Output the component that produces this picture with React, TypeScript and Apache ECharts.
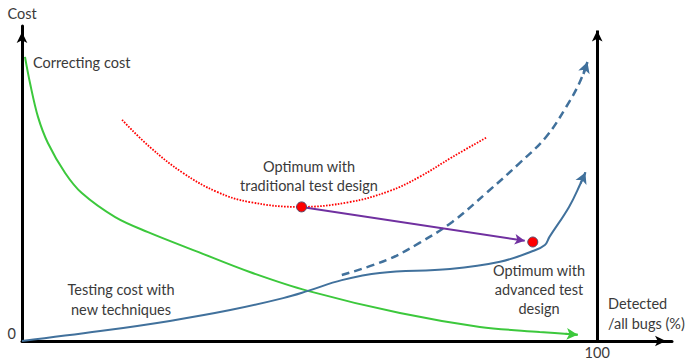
import React, { useEffect, useRef } from "react";
import * as echarts from "echarts";

// ---- data (x: detected/all bugs %, y: cost) ----
const greenCurve: number[][] = [
  [0.52, 94.7], [1.39, 86], [2.78, 74.7], [4.5, 66], [7.5, 56], [10.4, 49.3], [16.2, 41.3],
  [21.9, 36.3], [30.6, 29.7], [39.6, 23], [49.7, 16.7], [65.7, 9.3], [79.6, 4.7], [90, 3], [96.6, 2.1],
];
const blueCurve: number[][] = [
  [0, 0], [13.6, 3.3], [25.7, 6.7], [36.2, 10.3], [45.4, 14.3], [49.7, 16.7],
  [55.6, 20.3], [62.2, 22.7], [74.4, 24], [83.1, 26.4], [88.8, 30], [90.9, 32],
  [91.7, 34.7], [95.1, 44.7], [97.1, 52.5], [97.95, 56.2],
];
const dashedCurve: number[][] = [
  [55.6, 22], [63.4, 27], [69.1, 32.7], [74.8, 39.7], [80.7, 49.3], [86.5, 59.3],
  [91.1, 68], [94.6, 78], [96.9, 86], [98.3, 93],
];
const redCurve: number[][] = [
  [17.4, 73.7], [22.2, 64.7], [28, 56], [33.9, 49.7], [39.6, 46.3], [48.3, 44.7],
  [56.9, 46.3], [63.9, 50], [69.1, 54.7], [74.8, 61.3], [80.9, 68],
];
const optimumPoints: number[][] = [[48.6, 44.7], [88.8, 33]];
const moveArrow: number[][] = [[48.6, 44.7], [87.4, 33.4]];
const greenTip: number[][] = [[94.5, 2.4], [96.6, 2.1]];
const blueTip: number[][] = [[97.1, 52.5], [97.95, 56.2]];
const dashedTip: number[][] = [[97.6, 89], [98.3, 93]];
const rightLine: number[][] = [[100, 0], [100, 103.5]];
const xTicks = [100];
const yTicks = [0];

const FONT = "Lato, 'Open Sans', sans-serif";
const FS = 14.5;
const TXT = "#3a3a3a";
const GREEN = "#3cc83c";
const BLUE = "#41719c";
const RED = "#ff0000";
const PURPLE = "#7030a0";

function arrowMark(seg: number[][], color: string, width: number, type: any = "solid", size: any = [8, 10]) {
  return {
    silent: true,
    symbol: ["none", "arrow"],
    symbolSize: size,
    label: { show: false },
    emphasis: { disabled: true },
    lineStyle: { color, width, type },
    data: [[{ coord: seg[0] }, { coord: seg[1] }]],
  };
}

export default function App() {
  const ref = useRef<HTMLDivElement>(null);
  useEffect(() => {
    if (!ref.current) return;
    const chart = echarts.init(ref.current, undefined, { renderer: "svg" });
    const textStyle = (text: string, x: number, y: number, align: string, lh: number) => ({
      type: "text",
      x,
      y,
      silent: true,
      style: {
        text,
        fill: TXT,
        font: `${FS}px ${FONT}`,
        align,
        verticalAlign: "middle",
        lineHeight: lh,
      },
    });
    chart.setOption({
      animation: false,
      grid: { left: 22, right: 16, top: 26, bottom: 21 },
      xAxis: {
        type: "value",
        min: 0,
        max: 113,
        splitLine: { show: false },
        axisTick: { show: false },
        axisLine: {
          onZero: false,
          lineStyle: { color: "#000", width: 3 },
          symbol: ["none", "arrow"],
          symbolSize: [8, 11],
          symbolOffset: [0, -6],
        },
        axisLabel: { customValues: xTicks, color: TXT, fontFamily: FONT, fontSize: FS, margin: 4 },
      },
      yAxis: {
        type: "value",
        min: 0,
        max: 105,
        name: "Cost",
        nameGap: 5,
        nameTextStyle: { color: TXT, fontFamily: FONT, fontSize: FS },
        splitLine: { show: false },
        axisTick: { show: false },
        axisLine: {
          onZero: false,
          lineStyle: { color: "#000", width: 3 },
          symbol: ["none", "arrow"],
          symbolSize: [8, 11],
          symbolOffset: [0, -6],
        },
        axisLabel: {
          customValues: yTicks,
          color: TXT,
          fontFamily: FONT,
          fontSize: FS,
          margin: 6,
          verticalAlign: "bottom",
        },
      },
      series: [
        {
          type: "line",
          data: redCurve,
          smooth: 0.4,
          showSymbol: false,
          silent: true,
          lineStyle: { color: RED, width: 1.8, type: [1.6, 1.4] },
          z: 2,
        },
        {
          type: "line",
          data: greenCurve,
          smooth: 0.35,
          showSymbol: false,
          silent: true,
          lineStyle: { color: GREEN, width: 2 },
          markLine: arrowMark(greenTip, GREEN, 2, "solid", [9, 11]),
          z: 3,
        },
        {
          type: "line",
          data: blueCurve,
          smooth: 0.4,
          showSymbol: false,
          silent: true,
          lineStyle: { color: BLUE, width: 2 },
          markLine: arrowMark(blueTip, BLUE, 2, "solid", [9, 11]),
          z: 3,
        },
        {
          type: "line",
          data: dashedCurve,
          smooth: 0.4,
          showSymbol: false,
          silent: true,
          lineStyle: { color: BLUE, width: 2.5, type: [8, 5] },
          markLine: arrowMark(dashedTip, BLUE, 2.5, "solid", [9, 11]),
          z: 3,
        },
        {
          type: "line",
          data: [],
          silent: true,
          markLine: arrowMark(rightLine, "#000", 3, "solid", [8, 11]),
          z: 4,
        },
        {
          type: "line",
          data: [],
          silent: true,
          markLine: arrowMark(moveArrow, PURPLE, 2, "solid", [8, 10]),
          z: 5,
        },
        {
          type: "scatter",
          data: optimumPoints,
          symbolSize: 10,
          silent: true,
          itemStyle: { color: RED, borderColor: "#5a4a6a", borderWidth: 1, opacity: 1 },
          z: 6,
        },
      ],
      graphic: [
        textStyle("Correcting cost", 33, 62, "left", 19),
        textStyle("Optimum with\ntraditional test design", 309, 176, "center", 19),
        textStyle("Testing cost with\nnew techniques", 121, 299, "center", 20),
        textStyle("Optimum with\nadvanced test\ndesign", 539, 289, "center", 19),
        textStyle("Detected\n/all bugs (%)", 608, 313, "left", 20),
      ],
    });
    return () => chart.dispose();
  }, []);
  return (
    <div
      ref={ref}
      style={{ position: "fixed", left: 0, top: 0, width: 688, height: 362, background: "#fff" }}
    />
  );
}
